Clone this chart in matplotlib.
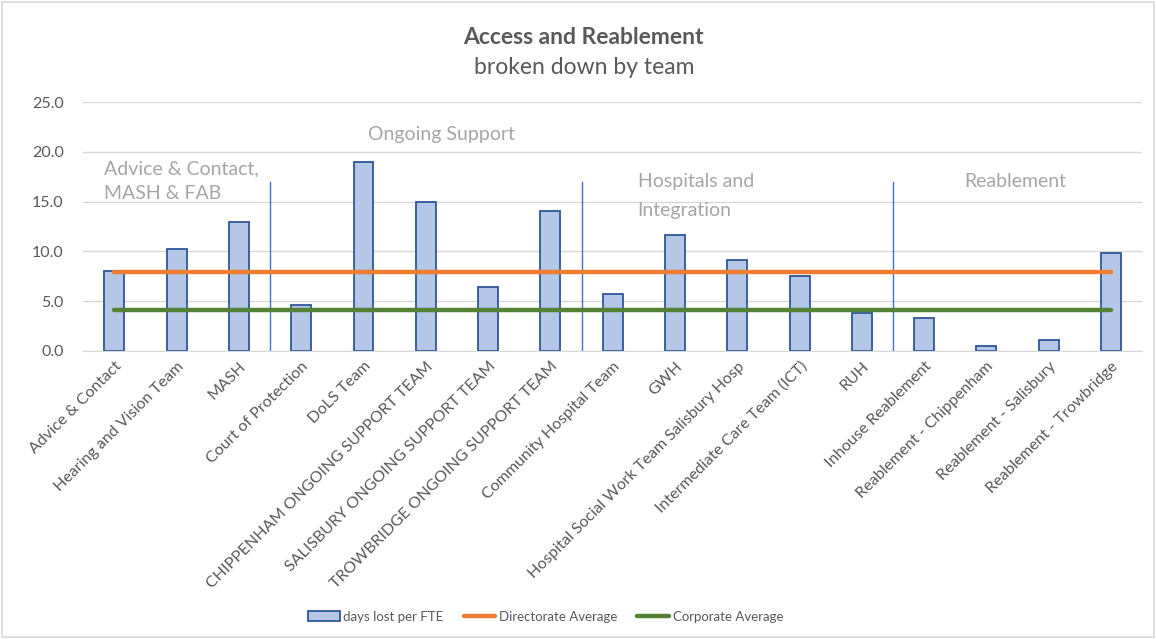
import matplotlib
matplotlib.use("Agg")
import matplotlib.pyplot as plt
import numpy as np

plt.rcParams['font.family'] = ['Lato', 'DejaVu Sans']

teams = ['Advice & Contact', 'Hearing and Vision Team', 'MASH', 'Court of Protection',
         'DoLS Team', 'CHIPPENHAM ONGOING SUPPORT TEAM', 'SALISBURY ONGOING SUPPORT TEAM',
         'TROWBRIDGE ONGOING SUPPORT TEAM', 'Community Hospital Team', 'GWH',
         'Hospital Social Work Team Salisbury Hosp', 'Intermediate Care Team (ICT)', 'RUH',
         'Inhouse Reablement', 'Reablement - Chippenham', 'Reablement - Salisbury',
         'Reablement - Trowbridge']
days_lost = [8.0, 10.2, 13.0, 4.6, 19.0, 15.0, 6.4, 14.1, 5.7, 11.6, 9.1, 7.5, 3.8,
             3.3, 0.5, 1.1, 9.8]
directorate_avg = 7.9
corporate_avg = 4.1

# group separators sit between categories
separators = [2.5, 7.5, 12.5]
groups = ['Advice & Contact,\nMASH & FAB', 'Ongoing Support',
          'Hospitals and\nIntegration', 'Reablement']
group_pos = [(-0.17, 19.2), (4.07, 22.6), (8.4, 17.9), (13.65, 17.9)]
group_spacing = [1.6, 1.6, 1.85, 1.6]

grey = '#595959'

fig = plt.figure(figsize=(11.56, 6.39), dpi=100)
ax = fig.add_axes([0.072, 0.451, 0.916, 0.389])

x = np.arange(len(teams))
bars = ax.bar(x, days_lost, width=0.32, color='#B4C7E7', edgecolor='#2F5597',
              linewidth=1.3, label='days lost per FTE', zorder=2)
l1, = ax.plot(x, [directorate_avg] * len(x), color='#ED7D31', lw=3.2,
              solid_capstyle='round', label='Directorate Average', zorder=3)
l2, = ax.plot(x, [corporate_avg] * len(x), color='#548235', lw=3.2,
              solid_capstyle='round', label='Corporate Average', zorder=3)

for s in separators:
    ax.plot([s, s], [0, 17], color='#4472C4', lw=1, zorder=1)

for g, (gx, gy), ls in zip(groups, group_pos, group_spacing):
    ax.text(gx, gy, g, color='#A6A6A6', fontsize=14, ha='left', va='top',
            linespacing=ls)

ax.set_xlim(-0.5, len(teams) - 0.5)
ax.set_ylim(0, 25)
ax.set_yticks(np.arange(0, 26, 5))
ax.set_yticklabels([f'{v:.1f}' for v in np.arange(0, 26, 5)])
ax.yaxis.grid(True, color='#D9D9D9', lw=1)
ax.set_axisbelow(True)
ax.set_xticks(x)
ax.set_xticklabels(teams, rotation=45, ha='right', rotation_mode='anchor')
ax.tick_params(axis='both', length=0, colors=grey, labelsize=11.5)
ax.tick_params(axis='y', pad=14)
ax.tick_params(axis='x', pad=6)
for side in ['top', 'right', 'left']:
    ax.spines[side].set_visible(False)
ax.spines['bottom'].set_color('#D9D9D9')

fig.text(0.505, 0.942, 'Access and Reablement', ha='center', va='center',
         fontsize=16.5, fontweight='bold', color=grey)
fig.text(0.505, 0.895, 'broken down by team', ha='center', va='center',
         fontsize=16.5, color=grey)

fig.legend([bars, l1, l2], ['days lost per FTE', 'Directorate Average', 'Corporate Average'],
           loc='center', bbox_to_anchor=(0.472, 0.035), ncol=3, frameon=False,
           fontsize=9.5, labelcolor=grey, handlelength=2.4, columnspacing=1.5,
           handletextpad=0.3)

# chart frame
fig.patches.append(plt.Rectangle((0.002, 0.003), 0.996, 0.994, transform=fig.transFigure,
                                 fill=False, edgecolor='#D9D9D9', lw=1.2))

fig.savefig('out.png', dpi=100)
